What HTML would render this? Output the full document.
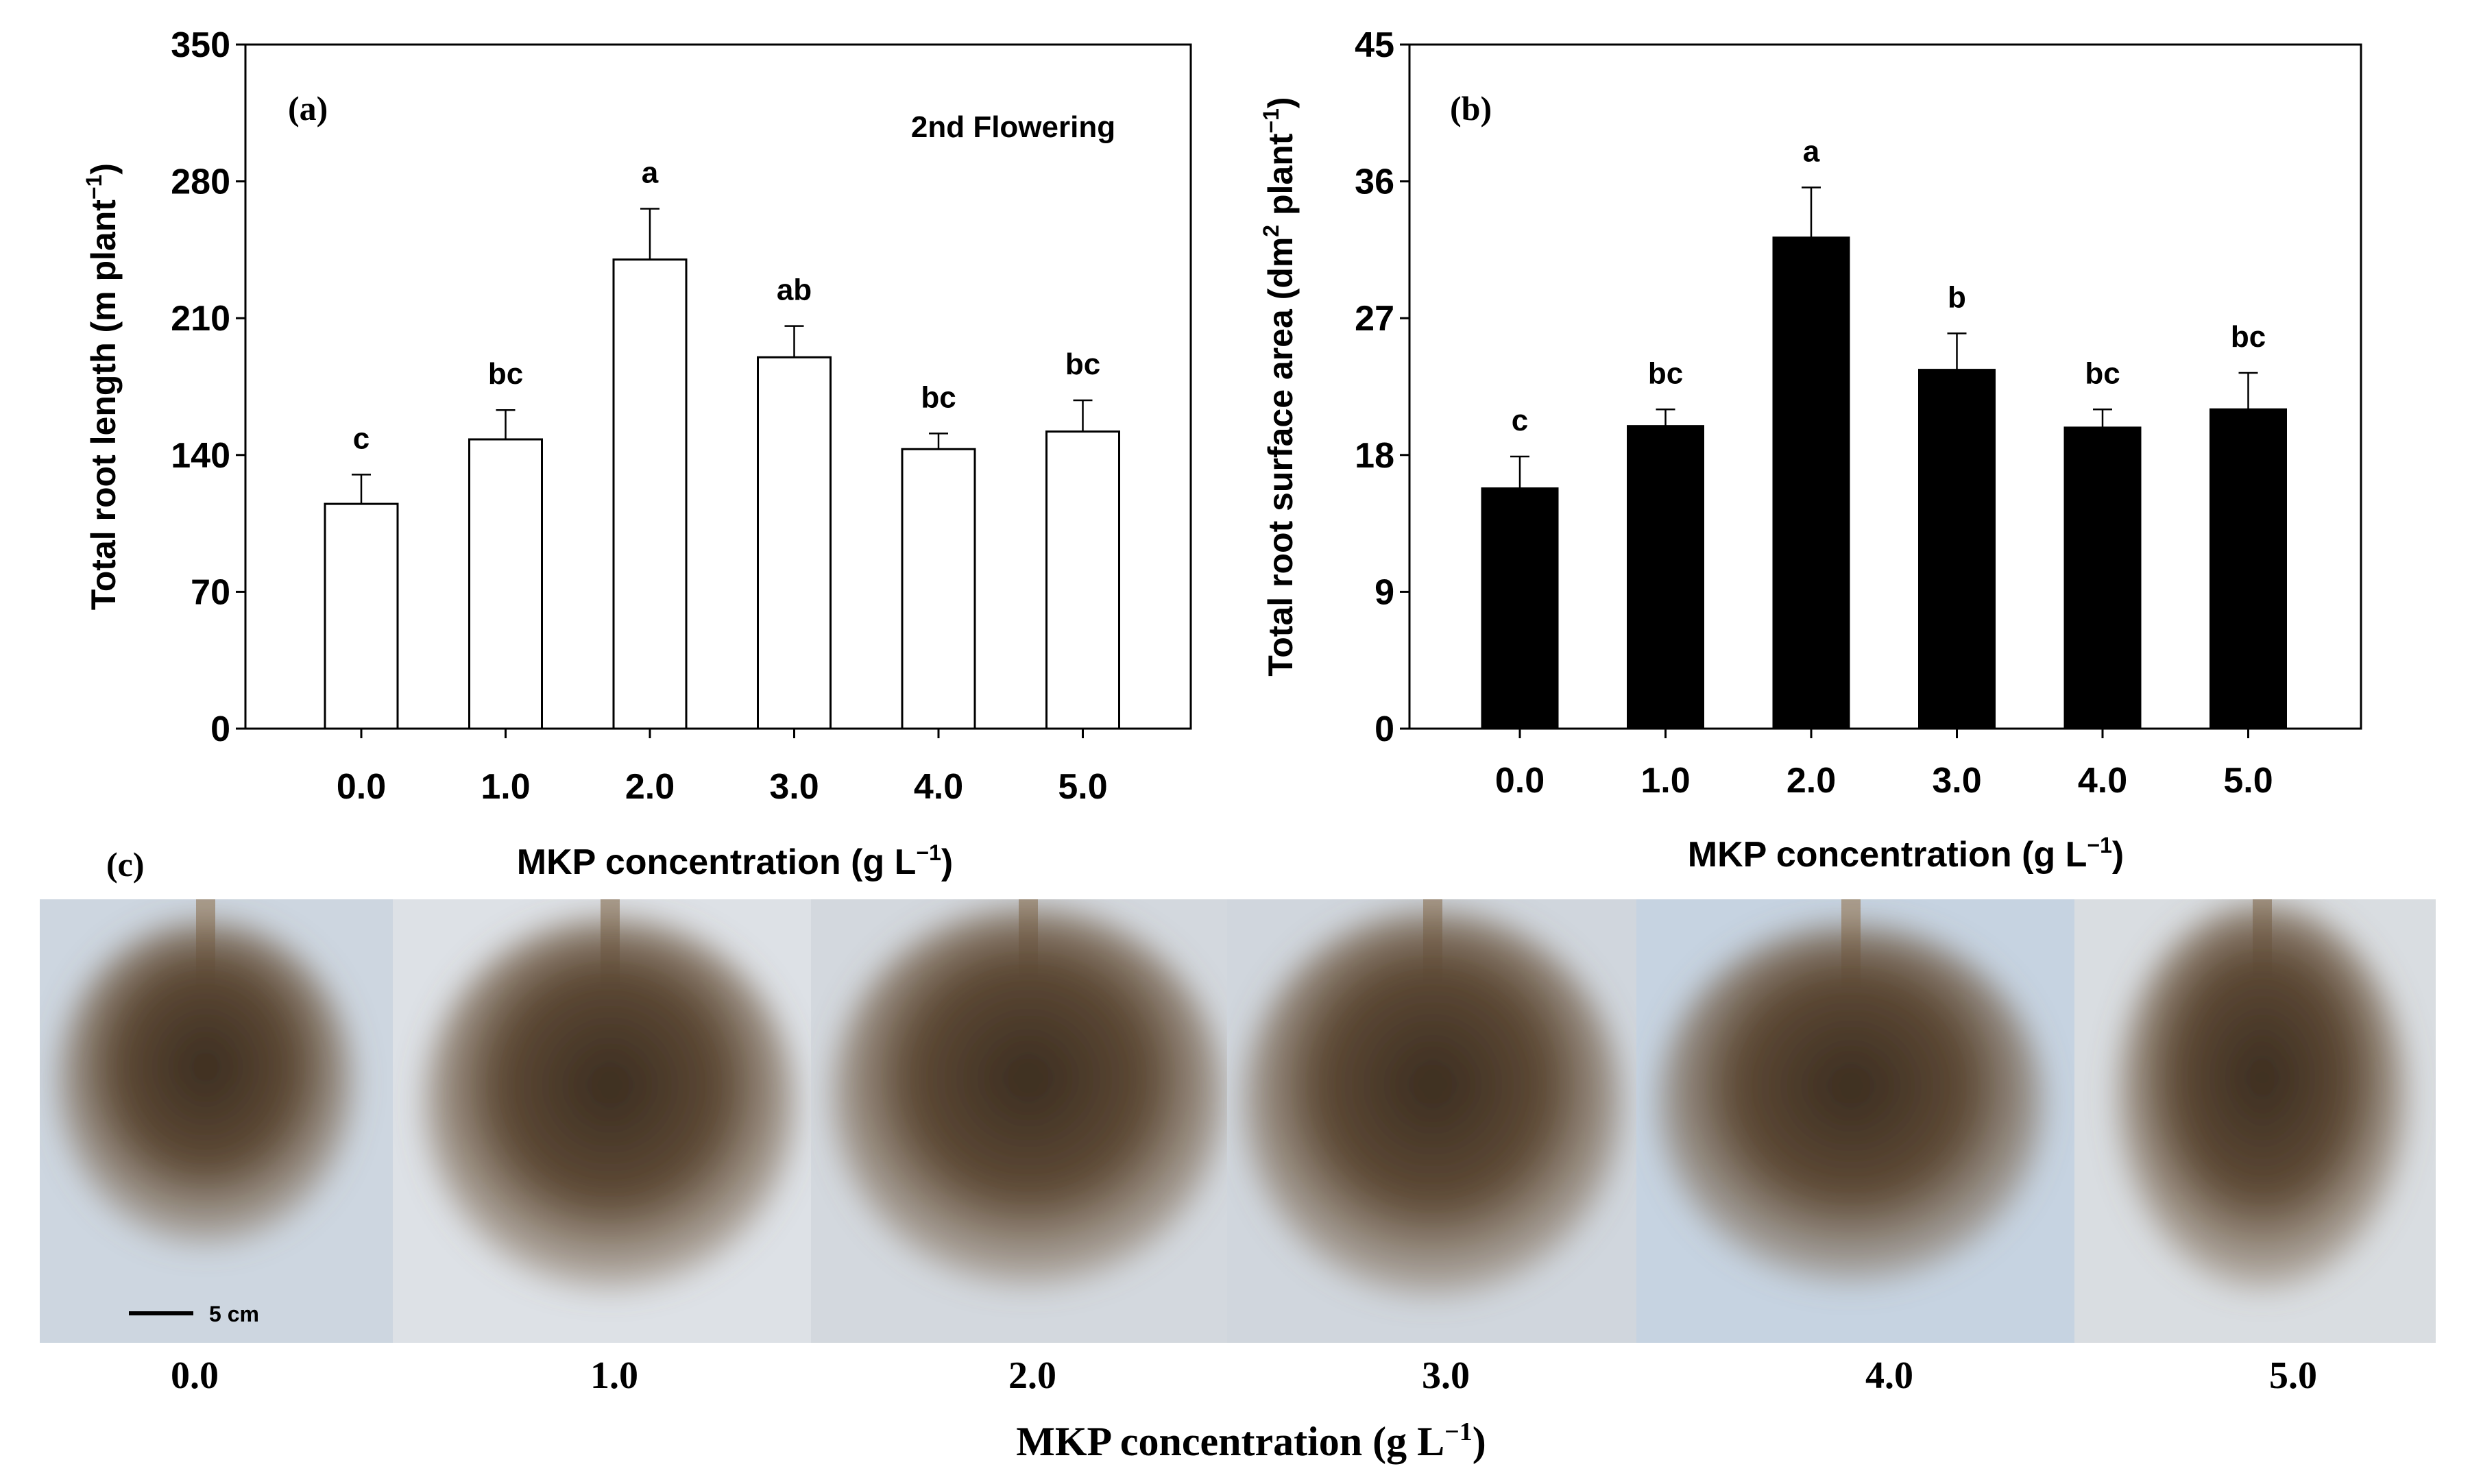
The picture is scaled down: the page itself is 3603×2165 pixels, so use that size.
<!DOCTYPE html>
<html><head><meta charset="utf-8"><style>
html,body{margin:0;padding:0;background:#fff}
svg{display:block}
.t{font-family:"Liberation Sans",Arial,sans-serif;font-weight:bold;fill:#000}
.s{font-family:"Liberation Serif",serif;font-weight:bold;fill:#000}
</style></head><body>
<svg id="fig" width="3603" height="2165" viewBox="0 0 3603 2165" xmlns="http://www.w3.org/2000/svg">
<defs>
<filter id="blur" x="-30%" y="-30%" width="160%" height="160%"><feGaussianBlur stdDeviation="22"/></filter>
<radialGradient id="root" cx="50%" cy="45%" r="55%">
<stop offset="0%" stop-color="#3a2c20"/><stop offset="55%" stop-color="#5e4a36"/><stop offset="100%" stop-color="#8a7660" stop-opacity="0.4"/>
</radialGradient>
</defs>
<g id="chartA"></g>
<g id="chartB"></g>
<g id="photos"></g>
</svg>
<script>
const categories = ["0.0","1.0","2.0","3.0","4.0","5.0"];
const lengthValues = [115,148,240,190,143,152];
const lengthErrors = [15,15,26,16,8,16];
const lengthLetters = ["c","bc","a","ab","bc","bc"];
const lengthTicks = [0,70,140,210,280,350];
const areaValues = [15.8,19.9,32.3,23.6,19.8,21.0];
const areaErrors = [2.1,1.1,3.3,2.4,1.2,2.4];
const areaLetters = ["c","bc","a","b","bc","bc"];
const areaTicks = [0,9,18,27,36,45];
const NS="http://www.w3.org/2000/svg";
function mk(tag,attrs,parent,text){const e=document.createElementNS(NS,tag);for(const k in attrs)e.setAttribute(k,attrs[k]);if(text!==undefined)e.textContent=text;parent.appendChild(e);return e;}

function drawChart(g,cfg){
  const {L,R,T,B,max,ticks,vals,errs,letters,fill,c0,step,bw,ylabel,ylabelX,xlabY,xtitleY,xtitleX}=cfg;
  const y=v=>B-(v/max)*(B-T);
  const x=i=>c0+i*step;
  const frame=mk('rect',{x:L,y:T,width:R-L,height:B-T,fill:'none',stroke:'#000','stroke-width':3},g);
  
  
  ticks.forEach(t=>{
    const ln=mk('line',{x1:L-14,x2:L,y1:y(t),y2:y(t),stroke:'#000','stroke-width':3},g);
    
    
    const tx=mk('text',{x:L-22,y:y(t)+18,'text-anchor':'end','font-size':52,class:'t'},g,String(t));
    
    
  });
  categories.forEach((c,i)=>{
    const cx=x(i);
    const tk=mk('line',{x1:cx,x2:cx,y1:B,y2:B+14,stroke:'#000','stroke-width':3},g);
    
    
    const tl=mk('text',{x:cx,y:xlabY,'text-anchor':'middle','font-size':52,class:'t'},g,c);
    
    
    const top=y(vals[i]), et=y(vals[i]+errs[i]);
    const eb=mk('line',{x1:cx,x2:cx,y1:top,y2:et,stroke:'#000','stroke-width':2.5},g);
    
    
    const cap=mk('line',{x1:cx-14,x2:cx+14,y1:et,y2:et,stroke:'#000','stroke-width':2.5},g);
    
    
    const b=mk('rect',{x:cx-bw/2,y:top,width:bw,height:B-top,fill:fill,stroke:'#000','stroke-width':3},g);
    
    
    const lt=mk('text',{x:cx,y:et-38,'text-anchor':'middle','font-size':44,class:'t'},g,letters[i]);
    
    
  });
  const yl=mk('text',{x:0,y:0,'text-anchor':'middle','font-size':50,class:'t',transform:`translate(${ylabelX},${(T+B)/2}) rotate(-90)`},g);
  
  
  yl.innerHTML=ylabel;
  const xt=mk('text',{x:xtitleX,y:xtitleY,'text-anchor':'middle','font-size':52,class:'t'},g);
  
  
  xt.innerHTML='MKP concentration (g L<tspan dy="-20" font-size="32">−1</tspan><tspan dy="20">)</tspan>';
}
const gA=document.getElementById('chartA');
drawChart(gA,{L:358,R:1737,T:65,B:1063,max:350,ticks:lengthTicks,vals:lengthValues,errs:lengthErrors,letters:lengthLetters,fill:'#fff',
  c0:527,step:210.5,bw:106,ylabel:'Total root length (m plant<tspan dy="-20" font-size="32">−1</tspan><tspan dy="20">)</tspan>',ylabelX:168,xlabY:1165,xtitleY:1275,xtitleX:1072});
const la=mk('text',{x:420,y:175,'font-size':50,class:'s'},gA,'(a)');


const fl=mk('text',{x:1478,y:200,'text-anchor':'middle','font-size':44,class:'t'},gA,'2nd Flowering');


const gB=document.getElementById('chartB');
drawChart(gB,{L:2056,R:3444,T:65,B:1063,max:45,ticks:areaTicks,vals:areaValues,errs:areaErrors,letters:areaLetters,fill:'#000',
  c0:2217,step:212.5,bw:110,ylabel:'Total root surface area (dm<tspan dy="-20" font-size="32">2</tspan><tspan dy="20"> plant</tspan><tspan dy="-20" font-size="32">−1</tspan><tspan dy="20">)</tspan>',ylabelX:1885,xlabY:1156,xtitleY:1264,xtitleX:2780});
const lb=mk('text',{x:2115,y:175,'font-size':50,class:'s'},gB,'(b)');



const gP=document.getElementById('photos');
const defs=document.querySelector('defs');
const lc=mk('text',{x:155,y:1278,'font-size':50,class:'s'},gP,'(c)');


const panels=[[58,573,'#cdd6e0',300,1580,215,235,284],[573,1183,'#dde1e6',890,1610,270,270,896],[1183,1790,'#d3d8de',1500,1600,285,275,1506],[1790,2387,'#d0d6dd',2090,1610,275,280,2109],[2387,3026,'#c6d3e1',2700,1610,280,260,2756],[3026,3553,'#d9dde1',3300,1600,210,280,3345]];
panels.forEach((p,i)=>{
  const cp=mk('clipPath',{id:'cp'+i},defs);
  mk('rect',{x:p[0],y:1312,width:p[1]-p[0],height:647},cp);
  const g=mk('g',{'clip-path':'url(#cp'+i+')'},gP);
  
  
  const r=mk('rect',{x:p[0],y:1312,width:p[1]-p[0],height:647,fill:p[2]},g);
  
  
  const st=mk('rect',{x:p[3]-14,y:1312,width:28,height:130,fill:'#a99c8c'},g);
  
  
  const e=mk('ellipse',{cx:p[3],cy:p[4],rx:p[5],ry:p[6],fill:'url(#root)',filter:'url(#blur)'},g);
  
  
  const lbl=mk('text',{x:p[7],y:2025,'text-anchor':'middle','font-size':56,class:'s'},gP,categories[i]);
  
  
});
const sb=mk('line',{x1:188,x2:282,y1:1916,y2:1916,stroke:'#000','stroke-width':6},gP);


const sbt=mk('text',{x:305,y:1928,'font-size':32,class:'t','font-weight':'normal'},gP,'5 cm');


const pt=mk('text',{x:1825,y:2123,'text-anchor':'middle','font-size':60,class:'s'},gP);


pt.innerHTML='MKP concentration (g L<tspan dy="-22" font-size="38">−1</tspan><tspan dy="22">)</tspan>';
</script>
</body></html>
